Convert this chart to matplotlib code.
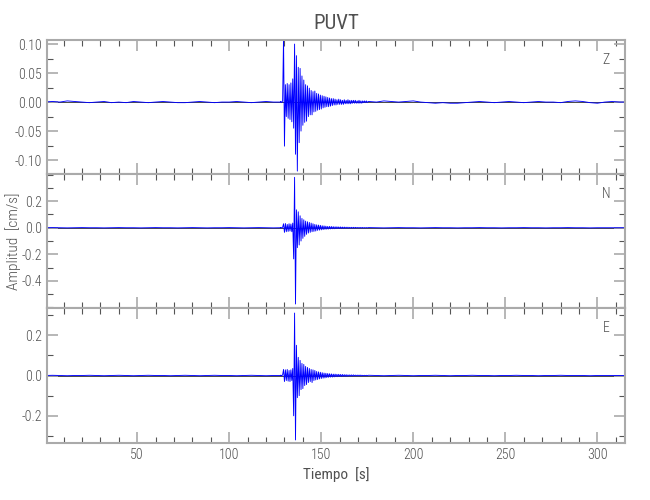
import numpy as np
import matplotlib
matplotlib.use("Agg")
import matplotlib.pyplot as plt
from matplotlib import font_manager
from matplotlib.ticker import MultipleLocator, FixedLocator, FormatStrFormatter

# --- data (cm/s) ---
components = ["Z", "N", "E"]

# quiet part before the event, one value every 4 s starting at 0 s
pre_dt = 4.0
z_pre = [0.000, 0.001, 0.000, 0.002, 0.001, 0.000, -0.001, 0.000, 0.001, -0.001,
         0.000, -0.001, 0.001, 0.000, -0.001, 0.000, 0.001, 0.000, -0.001, -0.001,
         0.000, 0.001, 0.000, -0.001, 0.000, 0.000, 0.001, 0.000, -0.001, 0.000,
         0.001, 0.000, 0.000]
n_pre = [0.000, 0.001, 0.000, -0.001, 0.000, 0.001, 0.000, 0.000, -0.001, 0.000,
         0.001, 0.000, 0.000, -0.001, 0.000, 0.001, 0.000, 0.000, -0.001, 0.000,
         0.001, 0.000, -0.001, 0.000, 0.000, 0.001, 0.000, -0.001, 0.000, 0.001,
         0.000, -0.001, 0.000]
e_pre = [0.000, 0.001, 0.000, -0.001, 0.000, 0.000, 0.001, 0.000, -0.001, 0.000,
         0.001, 0.000, -0.001, 0.000, 0.001, 0.000, 0.000, -0.001, 0.000, 0.001,
         0.000, -0.001, 0.000, 0.001, 0.000, 0.000, -0.001, 0.000, 0.001, 0.000,
         -0.001, 0.000, 0.000]

# event, one extreme every 0.5 s starting at 128 s
ev_t0 = 128.0
ev_dt = 0.5
z_ev = [0.001, -0.001, 0.002, 0.112, -0.076, 0.030, -0.025, 0.032, -0.028, 0.030,
        -0.030, 0.033, -0.034, 0.040, -0.045, 0.100, -0.090, 0.080, -0.119, 0.060,
        -0.070, 0.058, -0.050, 0.045, -0.040, 0.038, -0.035, 0.030, -0.033, 0.028,
        -0.025, 0.024, -0.022, 0.020, -0.022, 0.018, -0.017, 0.019, -0.016, 0.015,
        -0.014, 0.014, -0.013, 0.012, -0.012, 0.011, -0.010, 0.010, -0.009, 0.009,
        -0.008, 0.008, -0.008, 0.007, -0.007, 0.006, -0.006, 0.006, -0.005, 0.005,
        -0.005, 0.004, -0.004, 0.005, -0.004, 0.004, -0.004, 0.003, -0.004, 0.004,
        -0.003, 0.003, -0.003, 0.004, -0.003, 0.003, -0.003, 0.003, -0.002, 0.003,
        -0.002, 0.003, -0.002, 0.002, -0.002, 0.003, -0.002, 0.002, -0.002, 0.002,
        -0.001, 0.002, -0.001, 0.002, -0.001, 0.001]
n_ev = [0.002, -0.002, 0.004, 0.030, -0.035, 0.032, -0.030, 0.025, -0.028, 0.030,
        -0.025, 0.028, -0.030, 0.035, -0.235, 0.380, -0.575, 0.135, -0.150, 0.120,
        -0.130, 0.090, -0.100, 0.070, -0.080, 0.060, -0.065, 0.050, -0.050, 0.045,
        -0.040, 0.040, -0.035, 0.035, -0.030, 0.030, -0.028, 0.025, -0.025, 0.022,
        -0.020, 0.020, -0.018, 0.018, -0.016, 0.015, -0.014, 0.014, -0.012, 0.012,
        -0.011, 0.010, -0.010, 0.010, -0.009, 0.009, -0.008, 0.008, -0.008, 0.007,
        -0.007, 0.007, -0.006, 0.006, -0.006, 0.006, -0.005, 0.005, -0.005, 0.005,
        -0.004, 0.004, -0.004, 0.004, -0.004, 0.003, -0.003, 0.003, -0.003, 0.003,
        -0.003, 0.003, -0.002, 0.002, -0.002, 0.002, -0.002, 0.002, -0.002, 0.002,
        -0.002, 0.001, -0.001, 0.001, -0.001, 0.001]
e_ev = [0.002, -0.002, 0.003, 0.030, -0.030, 0.028, -0.025, 0.030, -0.028, 0.025,
        -0.030, 0.028, -0.025, 0.035, -0.200, 0.310, -0.320, 0.150, -0.110, 0.090,
        -0.100, 0.075, -0.070, 0.060, -0.065, 0.055, -0.050, 0.045, -0.045, 0.040,
        -0.035, 0.035, -0.030, 0.030, -0.035, 0.028, -0.025, 0.025, -0.022, 0.020,
        -0.020, 0.018, -0.017, 0.016, -0.015, 0.014, -0.013, 0.012, -0.012, 0.011,
        -0.010, 0.010, -0.009, 0.009, -0.008, 0.008, -0.008, 0.007, -0.007, 0.007,
        -0.006, 0.006, -0.006, 0.006, -0.005, 0.005, -0.005, 0.005, -0.004, 0.004,
        -0.004, 0.004, -0.004, 0.003, -0.003, 0.003, -0.003, 0.003, -0.003, 0.003,
        -0.002, 0.002, -0.002, 0.002, -0.002, 0.002, -0.002, 0.002, -0.002, 0.001,
        -0.001, 0.001, -0.001, 0.001, -0.001, 0.001]

# quiet part after the event, one value every 4 s starting at 176 s
post_t0 = 176.0
post_dt = 4.0
z_post = [0.001, 0.000, 0.002, 0.001, 0.000, 0.001, 0.002, 0.000, -0.001, -0.002,
          -0.001, -0.002, -0.002, -0.001, 0.000, 0.001, 0.000, -0.001, 0.000, 0.001,
          0.000, -0.001, 0.000, 0.001, 0.000, 0.000, -0.001, 0.001, 0.002, 0.001,
          -0.001, -0.002, 0.000, 0.001, 0.000, 0.000]
n_post = [0.001, 0.000, -0.001, 0.000, 0.001, 0.000, 0.000, -0.001, 0.000, 0.001,
          0.000, 0.000, -0.001, 0.000, 0.000, 0.001, 0.000, 0.000, -0.001, 0.000,
          0.000, 0.001, 0.000, 0.000, -0.001, 0.000, 0.000, 0.001, 0.000, 0.000,
          -0.001, 0.000, 0.000, 0.000, 0.000, 0.000]
e_post = [0.001, 0.000, -0.001, 0.000, 0.001, 0.000, -0.001, 0.000, 0.000, 0.001,
          0.000, -0.001, 0.000, 0.000, 0.001, 0.000, 0.000, -0.001, 0.000, 0.000,
          0.001, 0.000, 0.000, -0.001, 0.000, 0.000, 0.001, 0.000, 0.000, 0.000,
          -0.001, 0.000, 0.000, 0.000, 0.000, 0.000]

traces = {"Z": (z_pre, z_ev, z_post),
          "N": (n_pre, n_ev, n_post),
          "E": (e_pre, e_ev, e_post)}

ylims = {"Z": (-0.124, 0.107), "N": (-0.605, 0.405), "E": (-0.335, 0.335)}
yticks = {"Z": [-0.10, -0.05, 0.00, 0.05, 0.10],
          "N": [-0.4, -0.2, 0.0, 0.2],
          "E": [-0.2, 0.0, 0.2]}
yminor = {"Z": 0.025, "N": 0.1, "E": 0.1}
yfmt = {"Z": "%.2f", "N": "%.1f", "E": "%.1f"}
xticks = [50, 100, 150, 200, 250, 300]

# narrow, light text like the original plot
families = [f.name for f in font_manager.fontManager.ttflist]
narrow = None
for cand in ["Liberation Sans Narrow", "DejaVu Sans Condensed", "Roboto Condensed"]:
    if cand in families:
        narrow = cand
        break
if narrow is None:
    plt.rcParams["font.family"] = ["DejaVu Sans"]
    plt.rcParams["font.stretch"] = "condensed"
else:
    plt.rcParams["font.family"] = [narrow, "DejaVu Sans"]
plt.rcParams["font.weight"] = "light"

TXT = "#505050"
FRAME = "#aaaaaa"

fig = plt.figure(figsize=(6.5, 5), dpi=100)
left, width = 47 / 650, 578 / 650
tops = [40, 174, 308]
heights = [134, 134, 135]

for i, comp in enumerate(components):
    pre, ev, post = traces[comp]
    t = np.concatenate([np.arange(len(pre)) * pre_dt,
                        ev_t0 + np.arange(len(ev)) * ev_dt,
                        post_t0 + np.arange(len(post)) * post_dt])
    v = np.concatenate([pre, ev, post])

    bottom = 1 - (tops[i] + heights[i]) / 500
    ax = fig.add_axes([left, bottom, width, heights[i] / 500])
    ax.axhline(0, color="black", lw=0.5, zorder=1)
    ax.plot(t, v, color="#0000ff", lw=0.65, zorder=2)
    ax.set_xlim(1, 315)
    ax.set_ylim(*ylims[comp])

    ax.xaxis.set_major_locator(FixedLocator(xticks))
    ax.xaxis.set_minor_locator(MultipleLocator(10))
    ax.yaxis.set_major_locator(FixedLocator(yticks[comp]))
    ax.yaxis.set_minor_locator(MultipleLocator(yminor[comp]))
    ax.yaxis.set_major_formatter(FormatStrFormatter(yfmt[comp]))
    ax.tick_params(which="both", direction="in", top=True, right=True,
                   labelcolor=TXT, labelsize=10)
    ax.tick_params(which="major", length=8, width=1.2, color=FRAME)
    ax.tick_params(which="minor", length=4, width=0.8, color="#555555")
    if i < 2:
        ax.tick_params(labelbottom=False)
    for s in ax.spines.values():
        s.set_color(FRAME)
        s.set_linewidth(1.5)

    ax.text(0.967, 0.85, comp, transform=ax.transAxes, ha="center", va="center",
            color=TXT, fontsize=10)

    if i == 0:
        ax.set_title("PUVT", color=TXT, fontsize=15, pad=8)
    if i == 2:
        ax.set_xlabel("Tiempo  [s]", color=TXT, fontsize=11, labelpad=4)

fig.text(13 / 650, 1 - 241 / 500, "Amplitud  [cm/s]", rotation=90,
         ha="center", va="center", color=TXT, fontsize=11)

fig.savefig("out.png", dpi=100)
